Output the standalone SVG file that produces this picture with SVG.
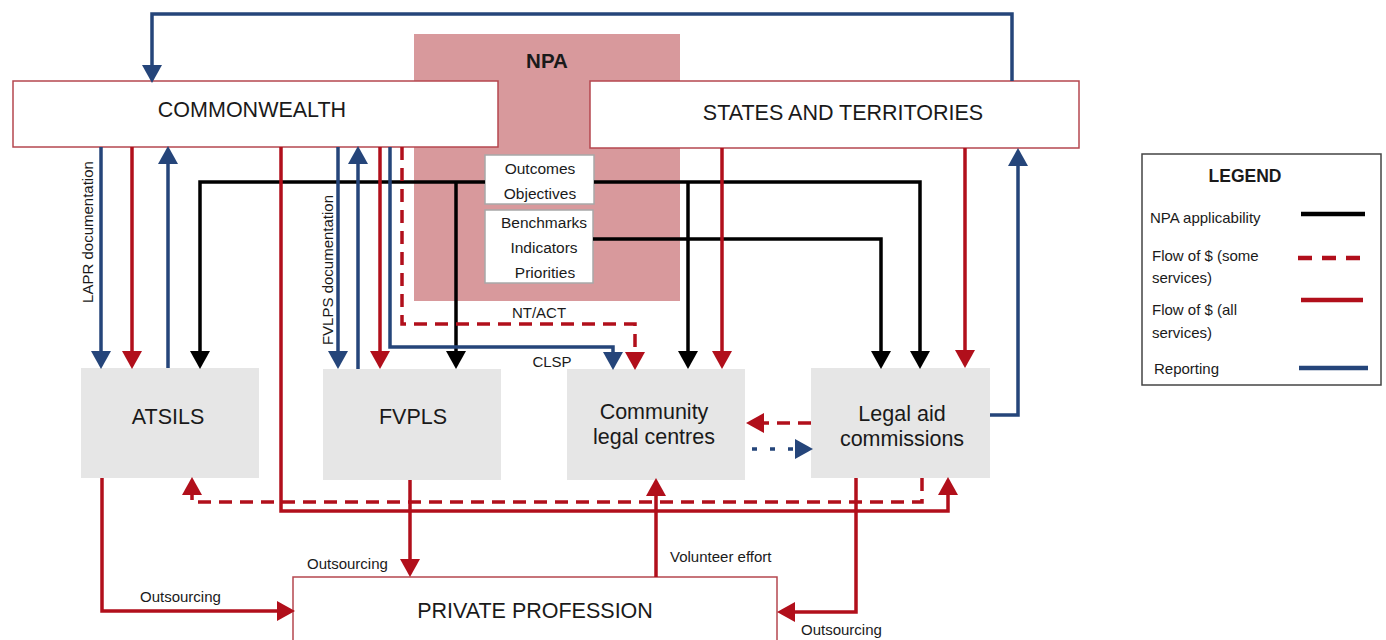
<svg xmlns="http://www.w3.org/2000/svg" width="1386" height="640" viewBox="0 0 1386 640">
  <style>
    text { font-family: "Liberation Sans", Arial, sans-serif; fill: #1a1a1a; }
    .big { font-size: 21.5px; text-anchor: middle; }
    .npa { font-size: 15.5px; text-anchor: middle; }
    .lbl { font-size: 15px; }
    .leg { font-size: 15px; }
    .gov { fill: #ffffff; stroke: #b5474f; stroke-width: 1.5; }
    .svc { fill: #e6e6e6; }
    .item { fill: #ffffff; stroke: #a8a8a8; stroke-width: 1.5; }
    .c { fill: none; stroke-width: 3.5; stroke-linejoin: miter; }
    .blue { stroke: #25457a; }
    .red { stroke: #b10f1b; }
    .black { stroke: #000000; }
    .dash { stroke-dasharray: 13 8; }
    .dot { stroke-dasharray: 5 13; }
    .b-end { marker-end: url(#ah-blue); }
    .r-end { marker-end: url(#ah-red); }
    .k-end { marker-end: url(#ah-black); }
  </style>
  <defs>
    <marker id="ah-blue" viewBox="0 0 18 20" refX="14" refY="10" markerWidth="18" markerHeight="20" markerUnits="userSpaceOnUse" orient="auto">
      <path d="M0,0 L18,10 L0,20 z" fill="#25457a"/>
    </marker>
    <marker id="ah-red" viewBox="0 0 18 20" refX="14" refY="10" markerWidth="18" markerHeight="20" markerUnits="userSpaceOnUse" orient="auto">
      <path d="M0,0 L18,10 L0,20 z" fill="#b10f1b"/>
    </marker>
    <marker id="ah-black" viewBox="0 0 18 20" refX="14" refY="10" markerWidth="18" markerHeight="20" markerUnits="userSpaceOnUse" orient="auto">
      <path d="M0,0 L18,10 L0,20 z" fill="#000000"/>
    </marker>
  </defs>

  <rect width="1386" height="640" fill="#ffffff"/>

  <!-- National Partnership Agreement panel -->
  <g id="npa">
    <rect x="414" y="34" width="266" height="267" fill="#d8999c"/>
    <text x="547" y="68" style="font-size:20.5px;font-weight:bold;text-anchor:middle">NPA</text>
  </g>

  <g id="commonwealth">
    <rect class="gov" x="13" y="81" width="485" height="66"/>
    <text class="big" x="252" y="117">COMMONWEALTH</text>
  </g>

  <g id="states">
    <rect class="gov" x="590" y="81" width="489" height="67"/>
    <text class="big" x="843" y="120">STATES AND TERRITORIES</text>
  </g>

  <g id="outcomes">
    <rect class="item" x="485" y="155" width="109" height="49"/>
    <text class="npa" x="540" y="174">Outcomes</text>
    <text class="npa" x="540" y="199">Objectives</text>
  </g>

  <g id="benchmarks">
    <rect class="item" x="485" y="210" width="108" height="73"/>
    <text class="npa" x="544" y="228">Benchmarks</text>
    <text class="npa" x="544" y="253">Indicators</text>
    <text class="npa" x="545" y="278">Priorities</text>
  </g>

  <g id="atsils">
    <rect class="svc" x="81" y="368" width="178" height="110"/>
    <text class="big" x="168" y="424">ATSILS</text>
  </g>

  <g id="fvpls">
    <rect class="svc" x="323" y="369" width="178" height="111"/>
    <text class="big" x="413" y="424">FVPLS</text>
  </g>

  <g id="clc">
    <rect class="svc" x="567" y="369" width="178" height="111"/>
    <text class="big" x="654" y="419">Community</text>
    <text class="big" x="654" y="444">legal centres</text>
  </g>

  <g id="lac">
    <rect class="svc" x="811" y="368" width="179" height="110"/>
    <text class="big" x="902" y="421">Legal aid</text>
    <text class="big" x="902" y="446">commissions</text>
  </g>

  <g id="private">
    <rect class="gov" x="293" y="577" width="484" height="70"/>
    <text class="big" x="535" y="618">PRIVATE PROFESSION</text>
  </g>

  <g id="connectors">
    <!-- NPA applicability -->
    <path class="c black k-end" d="M485,182 H200 V365"/>
    <path class="c black k-end" d="M456,182 V365"/>
    <path class="c black k-end" d="M594,182 H920 V365"/>
    <path class="c black k-end" d="M688,182 V365"/>
    <path class="c black k-end" d="M593,239 H881 V365"/>

    <!-- Reporting -->
    <path class="c blue b-end" d="M1012,81 V14 H152 V79"/>
    <path class="c blue b-end" d="M101,147 V365"/>
    <path class="c blue b-end" d="M168,368 V150"/>
    <path class="c blue b-end" d="M338,147 V365"/>
    <path class="c blue b-end" d="M358,369 V150"/>
    <path class="c blue b-end" d="M390,147 V347 H613 V366"/>
    <path class="c blue b-end" d="M990,415 H1018 V152"/>
    <path class="c blue dot b-end" d="M752,449 H809"/>

    <!-- Flow of $ (all services) -->
    <path class="c red r-end" d="M132,147 V365"/>
    <path class="c red r-end" d="M380,147 V365"/>
    <path class="c red r-end" d="M281,147 V511 H948 V481"/>
    <path class="c red r-end" d="M722,148 V365"/>
    <path class="c red r-end" d="M965,148 V364"/>
    <path class="c red r-end" d="M102,478 V611 H291"/>
    <path class="c red r-end" d="M410,480 V573"/>
    <path class="c red r-end" d="M656,577 V482"/>
    <path class="c red r-end" d="M856,478 V612 H781"/>

    <!-- Flow of $ (some services) -->
    <path class="c red dash r-end" d="M402,147 V324 H635 V366"/>
    <path class="c red dash r-end" d="M922,478 V502 H192 V481"/>
    <path class="c red dash r-end" d="M811,423 H750"/>

    <!-- connector labels -->
    <text class="lbl" transform="translate(93,232) rotate(-90)" text-anchor="middle">LAPR documentation</text>
    <text class="lbl" transform="translate(333,270) rotate(-90)" text-anchor="middle">FVLPS documentation</text>
    <text class="lbl" x="539" y="318" text-anchor="middle">NT/ACT</text>
    <text class="lbl" x="552" y="367" text-anchor="middle">CLSP</text>
    <text class="lbl" x="140" y="602">Outsourcing</text>
    <text class="lbl" x="307" y="569">Outsourcing</text>
    <text class="lbl" x="670" y="562">Volunteer effort</text>
    <text class="lbl" x="801" y="635">Outsourcing</text>
  </g>

  <g id="legend">
    <rect x="1142" y="154" width="239" height="231" fill="#ffffff" stroke="#444444" stroke-width="1.5"/>
    <text x="1245" y="182" style="font-size:17.5px;font-weight:bold;text-anchor:middle">LEGEND</text>
    <text class="leg" x="1150" y="223">NPA applicability</text>
    <line x1="1301" y1="214" x2="1365" y2="214" stroke="#000000" stroke-width="4.5"/>
    <text class="leg" x="1152" y="261">Flow of $ (some</text>
    <text class="leg" x="1152" y="283">services)</text>
    <line x1="1298" y1="258" x2="1363" y2="258" stroke="#b10f1b" stroke-width="4.5" stroke-dasharray="14 10"/>
    <text class="leg" x="1152" y="315">Flow of $ (all</text>
    <text class="leg" x="1152" y="338">services)</text>
    <line x1="1301" y1="300" x2="1363" y2="300" stroke="#b10f1b" stroke-width="4.5"/>
    <text class="leg" x="1154" y="374">Reporting</text>
    <line x1="1299" y1="368" x2="1368" y2="368" stroke="#25457a" stroke-width="4.5"/>
  </g>
</svg>
